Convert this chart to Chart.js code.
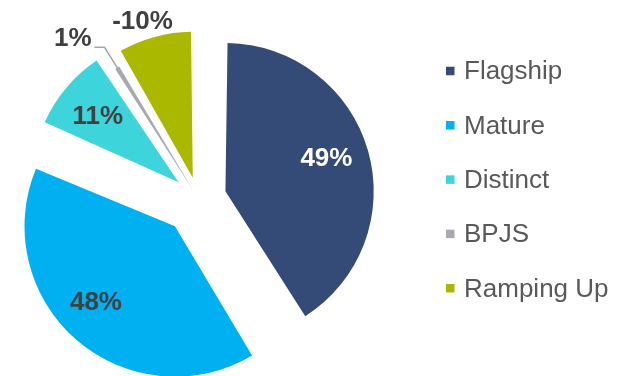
<!DOCTYPE html>
<html>
<head>
<meta charset="utf-8">
<script src="https://cdn.jsdelivr.net/npm/chart.js@4.4.1/dist/chart.umd.min.js"></script>
<style>
html,body{margin:0;padding:0;background:#fff;overflow:hidden}
#wrap{position:relative;width:623px;height:376px}
canvas{display:block}
</style>
</head>
<body>
<div id="wrap"><canvas id="c" width="623" height="376"></canvas></div>
<script>
// ---- data ----
const categories = ['Flagship', 'Mature', 'Distinct', 'BPJS', 'Ramping Up'];
const shareValues = [49, 48, 11, 1, -10];           // shown labels (%)
const sliceValues = shareValues.map(v => Math.abs(v)); // slice sizes

// ---- styles ----
const sliceColors = ['#344A77', '#00B0F0', '#3DD5DB', '#A7ABAF', '#AAB800'];
const sliceOffsets = [112, 144, 104, 40, 88];
const labelModes = ['in', 'in', 'in', 'leader', 'out'];
const labelAngleNudge = [-3, 6, 0, 0, -2.5];   // degrees
const labelColors = ['#FFFFFF', '#404040', '#404040', '#404040', '#404040'];
const FONT = '"Liberation Sans", Arial, sans-serif';

function arcGeom(arc) {
  const p = arc.getProps(['x', 'y', 'startAngle', 'endAngle', 'outerRadius', 'circumference'], true);
  const off = (arc.options.offset || 0) / 4;
  const fix = 1 - Math.sin(Math.min(Math.PI, p.circumference || 0));
  const ro = p.outerRadius + off * fix;
  const mid = (p.startAngle + p.endAngle) / 2;
  return { ax: p.x + Math.cos(mid) * off, ay: p.y + Math.sin(mid) * off, ro, mid };
}

const labelPlugin = {
  id: 'sliceLabels',
  afterDatasetsDraw(chart) {
    const ctx = chart.ctx;
    const meta = chart.getDatasetMeta(0);
    ctx.save();
    ctx.font = 'bold 26px ' + FONT;
    meta.data.forEach((arc, i) => {
      const g = arcGeom(arc);
      const text = shareValues[i] + '%';
      ctx.fillStyle = labelColors[i];
      const mode = labelModes[i];
      const a = g.mid + labelAngleNudge[i] * Math.PI / 180;
      const c = Math.cos(a), s = Math.sin(a);
      ctx.textBaseline = 'alphabetic';
      if (mode === 'in' || mode === 'out') {
        const d = mode === 'in' ? g.ro * 0.72 : g.ro + 20;
        ctx.textAlign = 'center';
        ctx.fillText(text, g.ax + c * d, g.ay + s * d + 9.3);
      } else {
        const x0 = g.ax + c * (g.ro - 3), y0 = g.ay + s * (g.ro - 3);
        const x1 = g.ax + c * (g.ro + 24), y1 = g.ay + s * (g.ro + 24);
        const x2 = x1 - 10;
        ctx.strokeStyle = '#A6A6A6';
        ctx.lineWidth = 1.5;
        ctx.beginPath();
        ctx.moveTo(x0, y0); ctx.lineTo(x1, y1); ctx.lineTo(x2, y1);
        ctx.stroke();
        ctx.textAlign = 'right';
        ctx.fillText(text, x2 - 3, y1 - 1.5);
      }
    });
    ctx.restore();
  }
};

const legendPlugin = {
  id: 'sideLegend',
  afterDraw(chart) {
    const ctx = chart.ctx;
    const labels = chart.data.labels;
    const colors = chart.data.datasets[0].backgroundColor;
    ctx.save();
    ctx.font = '26px ' + FONT;
    ctx.textAlign = 'left';
    ctx.textBaseline = 'alphabetic';
    labels.forEach((lab, i) => {
      const yc = 71 + 54.3 * i;
      ctx.fillStyle = colors[i];
      ctx.fillRect(446, yc - 4.25, 8.5, 8.5);
      ctx.fillStyle = '#595959';
      ctx.fillText(lab, 464, yc + 8.3);
    });
    ctx.restore();
  }
};

new Chart(document.getElementById('c'), {
  type: 'pie',
  data: {
    labels: categories,
    datasets: [{
      data: sliceValues,
      backgroundColor: sliceColors,
      borderWidth: 0,
      offset: sliceOffsets,
      hoverOffset: 0,
      radius: 135
    }]
  },
  options: {
    responsive: false,
    animation: false,
    events: [],
    layout: { padding: { left: 0, right: 226, top: 22, bottom: 0 } },
    plugins: { legend: { display: false }, tooltip: { enabled: false } }
  },
  plugins: [labelPlugin, legendPlugin]
});
</script>
</body>
</html>
